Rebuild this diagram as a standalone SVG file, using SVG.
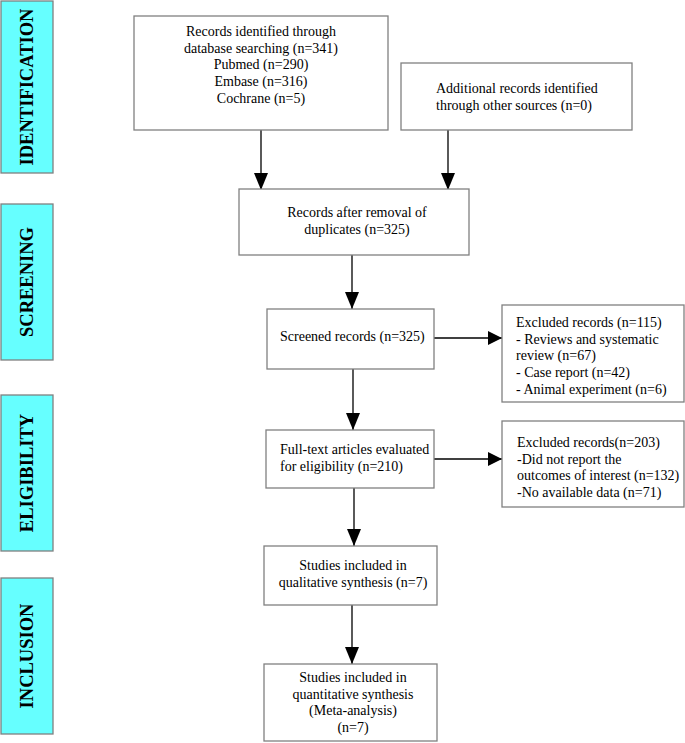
<svg xmlns="http://www.w3.org/2000/svg" width="685" height="743" viewBox="0 0 685 743">
<defs>
<style>
.box{fill:#fff;stroke:#808080;stroke-width:1.3}
.side{fill:#66ffff;stroke:#808080;stroke-width:1.3}
.t{font-family:"Liberation Serif","Times New Roman",serif;font-size:14px;fill:#000}
.c{text-anchor:middle}
.lab{font-family:"Liberation Serif","Times New Roman",serif;font-size:18.5px;font-weight:bold;fill:#000;text-anchor:middle}
.ln{stroke:#000;stroke-width:1.3;fill:none}
</style>
<marker id="ah" markerWidth="14" markerHeight="14" viewBox="0 0 14 14" refX="14" refY="7" orient="auto" markerUnits="userSpaceOnUse">
<path d="M0,0 L14,7 L0,14 Z" fill="#000"/>
</marker>
<marker id="av" markerWidth="17" markerHeight="14" viewBox="0 0 17 14" refX="17" refY="7" orient="auto" markerUnits="userSpaceOnUse">
<path d="M0,0 L17,7 L0,14 Z" fill="#000"/>
</marker>
</defs>
<rect width="685" height="743" fill="#fff"/>

<g id="phase-identification">
<rect class="side" x="1" y="1" width="52" height="172"/>
<text class="lab" transform="translate(33,87) rotate(-90)">IDENTIFICATION</text>
</g>
<g id="phase-screening">
<rect class="side" x="1" y="204" width="52" height="156"/>
<text class="lab" transform="translate(33,282) rotate(-90)">SCREENING</text>
</g>
<g id="phase-eligibility">
<rect class="side" x="1" y="395" width="52" height="156"/>
<text class="lab" transform="translate(33,473) rotate(-90)">ELIGIBILITY</text>
</g>
<g id="phase-inclusion">
<rect class="side" x="1" y="578" width="52" height="156"/>
<text class="lab" transform="translate(33,656) rotate(-90)">INCLUSION</text>
</g>

<g id="connectors">
<line class="ln" x1="261" y1="130" x2="261" y2="190" marker-end="url(#av)"/>
<line class="ln" x1="448" y1="130" x2="448" y2="190" marker-end="url(#av)"/>
<line class="ln" x1="352" y1="255" x2="352" y2="309" marker-end="url(#av)"/>
<line class="ln" x1="434" y1="338" x2="502" y2="338" marker-end="url(#ah)"/>
<line class="ln" x1="353" y1="369" x2="353" y2="430" marker-end="url(#av)"/>
<line class="ln" x1="434" y1="459" x2="502" y2="459" marker-end="url(#ah)"/>
<line class="ln" x1="354" y1="488" x2="354" y2="546" marker-end="url(#av)"/>
<line class="ln" x1="352" y1="605" x2="352" y2="664" marker-end="url(#av)"/>
</g>

<g id="records-identified">
<rect class="box" x="134" y="16" width="254" height="114"/>
<text class="t c" x="261" y="36">Records identified through</text>
<text class="t c" x="261" y="52.7">database searching (n=341)</text>
<text class="t c" x="261" y="69.4">Pubmed (n=290)</text>
<text class="t c" x="261" y="86.1">Embase (n=316)</text>
<text class="t c" x="261" y="102.8">Cochrane (n=5)</text>
</g>
<g id="additional-records">
<rect class="box" x="401" y="63" width="231" height="67"/>
<text class="t" x="436" y="93">Additional records identified</text>
<text class="t" x="436" y="110">through other sources (n=0)</text>
</g>
<g id="after-duplicates">
<rect class="box" x="239" y="189" width="230" height="66"/>
<text class="t c" x="357" y="217">Records after removal of</text>
<text class="t c" x="357" y="233.5">duplicates (n=325)</text>
</g>
<g id="screened">
<rect class="box" x="267" y="309" width="167" height="60"/>
<text class="t" x="280" y="341">Screened records (n=325)</text>
</g>
<g id="excluded-1">
<rect class="box" x="502" y="305" width="182" height="97"/>
<text class="t" x="516" y="327">Excluded records (n=115)</text>
<text class="t" x="516" y="343.7">- Reviews and systematic</text>
<text class="t" x="516" y="360.4">review (n=67)</text>
<text class="t" x="516" y="377.1">- Case report (n=42)</text>
<text class="t" x="516" y="393.8">- Animal experiment (n=6)</text>
</g>
<g id="full-text">
<rect class="box" x="266" y="430" width="168" height="58"/>
<text class="t" x="280" y="454">Full-text articles evaluated</text>
<text class="t" x="280" y="470.7">for eligibility (n=210)</text>
</g>
<g id="excluded-2">
<rect class="box" x="502" y="421" width="182" height="86"/>
<text class="t" x="517" y="447">Excluded records(n=203)</text>
<text class="t" x="517" y="463.7">-Did not report the</text>
<text class="t" x="517" y="480.4">outcomes of interest (n=132)</text>
<text class="t" x="517" y="497.1">-No available data (n=71)</text>
</g>
<g id="qualitative">
<rect class="box" x="264" y="546" width="173" height="59"/>
<text class="t c" x="353" y="570">Studies included in</text>
<text class="t c" x="353" y="586.7">qualitative synthesis (n=7)</text>
</g>
<g id="quantitative">
<rect class="box" x="264" y="664" width="173" height="77"/>
<text class="t c" x="353" y="682">Studies included in</text>
<text class="t c" x="353" y="698.7">quantitative synthesis</text>
<text class="t c" x="353" y="715.4">(Meta-analysis)</text>
<text class="t c" x="353" y="732.1">(n=7)</text>
</g>
</svg>
